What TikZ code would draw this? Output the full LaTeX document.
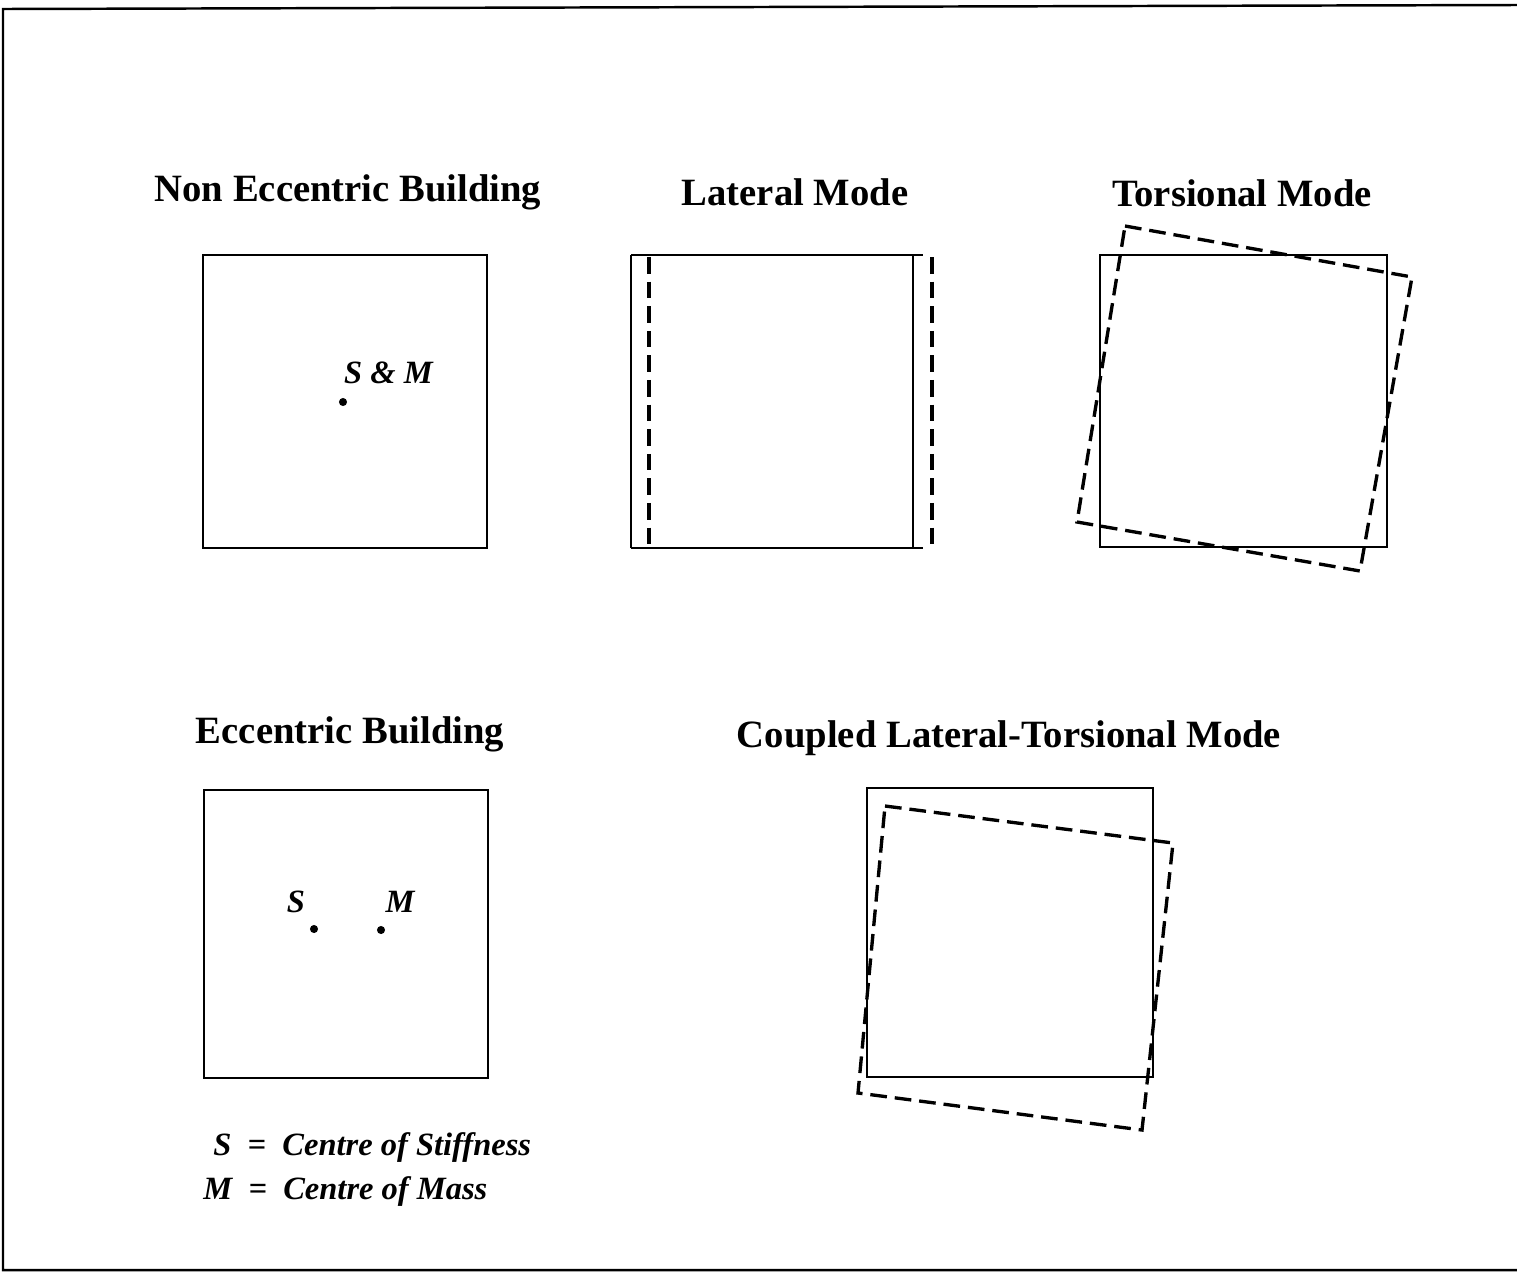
\documentclass[tikz,border=0pt]{standalone}
\usepackage{fontspec}
\setmainfont{Liberation Serif}
\usetikzlibrary{positioning}

\begin{document}
\begin{tikzpicture}[x=0.02cm,y=-0.02cm,
  title/.style={font=\fontsize{22}{26}\selectfont\bfseries},
  lbl/.style={font=\fontsize{18.5}{22}\selectfont\bfseries\itshape},
  wall/.style={draw=black,line width=1.2pt},
  moved/.style={draw=black,line width=1.9pt,dash pattern=on 9.5pt off 4.5pt},
  centre/.style={circle,fill=black,inner sep=0pt,minimum size=4.6pt},
  frame/.style={draw=black,line width=1.4pt}
]
\useasboundingbox (0,0) rectangle (1517,1275);
\draw[frame] (1517,5) -- (3,9) -- (3,1270) -- (1517,1270);

% titles
\node[title] (noecc) at (348,192) {Non Eccentric Building};
\node[title] (lat) at (795,192) {Lateral Mode};
\node[title] (tors) at (1242,193) {Torsional Mode};
\node[title] (ecc) at (350,734) {Eccentric Building};
\node[title] (coup) at (1009,738) {Coupled Lateral-Torsional Mode};

% non eccentric building
\draw[wall] (203,255) rectangle (487,548);
\node[centre] (sm) at (343,402) {};
\node[lbl,anchor=base west] (smlab) at (338,383) {S \& M};

% lateral mode
\draw[wall] (631,255) -- (631,548);
\draw[wall] (913,255) -- (913,548);
\draw[wall] (631,255) -- (923,255);
\draw[wall] (631,548) -- (923,548);
\draw[moved] (649,257) -- (649,548);
\draw[moved] (932,257) -- (932,548);

% torsional mode
\draw[wall] (1100,255) rectangle (1387,547);
\draw[moved] (1125,226) -- (1412,277) -- (1360,571) -- (1077,522) -- cycle;

% eccentric building
\draw[wall] (204,790) rectangle (488,1078);
\node[centre] (s) at (314,929) {};
\node[centre] (m) at (381,930) {};
\node[lbl] (slab) at (296,902) {S};
\node[lbl] (mlab) at (400,902) {M};

% legend
\node[lbl,anchor=base west,inner sep=0pt] (leg1) at (213,1155) {S\hspace{0.5em}=\hspace{0.5em}Centre of Stiffness};
\node[lbl,anchor=base west,inner sep=0pt] (leg2) at (203,1199) {M\hspace{0.5em}=\hspace{0.5em}Centre of Mass};

% coupled lateral-torsional mode
\draw[wall] (867,788) rectangle (1153,1077);
\draw[moved] (885,806) -- (1173,843) -- (1142,1130) -- (858,1093) -- cycle;
\end{tikzpicture}
\end{document}
